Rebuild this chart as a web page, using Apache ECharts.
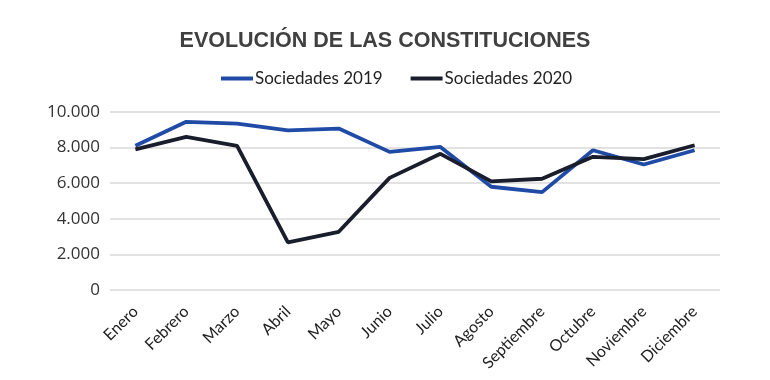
<!DOCTYPE html>
<html>
<head>
<meta charset="utf-8">
<script src="https://cdn.jsdelivr.net/npm/echarts@6/dist/echarts.min.js"></script>
<style>html,body{margin:0;padding:0;background:#fff}#c{width:770px;height:380px}</style>
</head>
<body>
<div id="c"></div>
<script>
const months = ['Enero','Febrero','Marzo','Abril','Mayo','Junio','Julio','Agosto','Septiembre','Octubre','Noviembre','Diciembre'];
const sociedades2019 = [8100, 9450, 9350, 8970, 9070, 7760, 8040, 5800, 5500, 7850, 7050, 7850];
const sociedades2020 = [7900, 8600, 8100, 2680, 3270, 6300, 7650, 6100, 6250, 7480, 7350, 8130];
const seriesNames = ['Sociedades 2019', 'Sociedades 2020'];

const chart = echarts.init(document.getElementById('c'), null, {renderer: 'canvas'});
chart.setOption({
  animation: false,
  backgroundColor: '#fff',
  title: {
    text: 'EVOLUCIÓN DE LAS CONSTITUCIONES',
    left: 'center', top: 25,
    textStyle: {fontFamily: 'Liberation Sans', fontWeight: 'bold', fontSize: 21.5, color: '#404040'}
  },
  legend: {
    data: seriesNames,
    left: 216, top: 65,
    itemWidth: 32, itemHeight: 4, itemGap: 28,
    icon: 'rect',
    textStyle: {fontFamily: 'Lato', fontSize: 17, color: '#222', padding: [0, 0, 0, -3]}
  },
  grid: {left: 110, right: 50, top: 112, bottom: 90},
  xAxis: {
    type: 'category',
    data: months,
    boundaryGap: true,
    axisLine: {show: false},
    axisTick: {show: false},
    axisLabel: {rotate: 45, margin: 19, interval: 0, fontFamily: 'Lato', fontSize: 16, color: '#222'}
  },
  yAxis: {
    type: 'value',
    min: 0, max: 10000, interval: 2000,
    axisLine: {show: false},
    axisTick: {show: false},
    splitLine: {lineStyle: {color: '#d9d9d9', width: 1.5}},
    axisLabel: {
      margin: 10, fontFamily: 'Open Sans', fontSize: 17, color: '#333',
      formatter: v => v === 0 ? '0' : String(v).replace(/\B(?=(\d{3})+(?!\d))/g, '.')
    }
  },
  series: [
    {name: seriesNames[0], type: 'line', data: sociedades2019, symbol: 'none',
     lineStyle: {color: '#1f4aa6', width: 3.8}, itemStyle: {color: '#1f4aa6'}},
    {name: seriesNames[1], type: 'line', data: sociedades2020, symbol: 'none',
     lineStyle: {color: '#1a1e2c', width: 3.8}, itemStyle: {color: '#1a1e2c'}}
  ]
});
</script>
</body>
</html>
